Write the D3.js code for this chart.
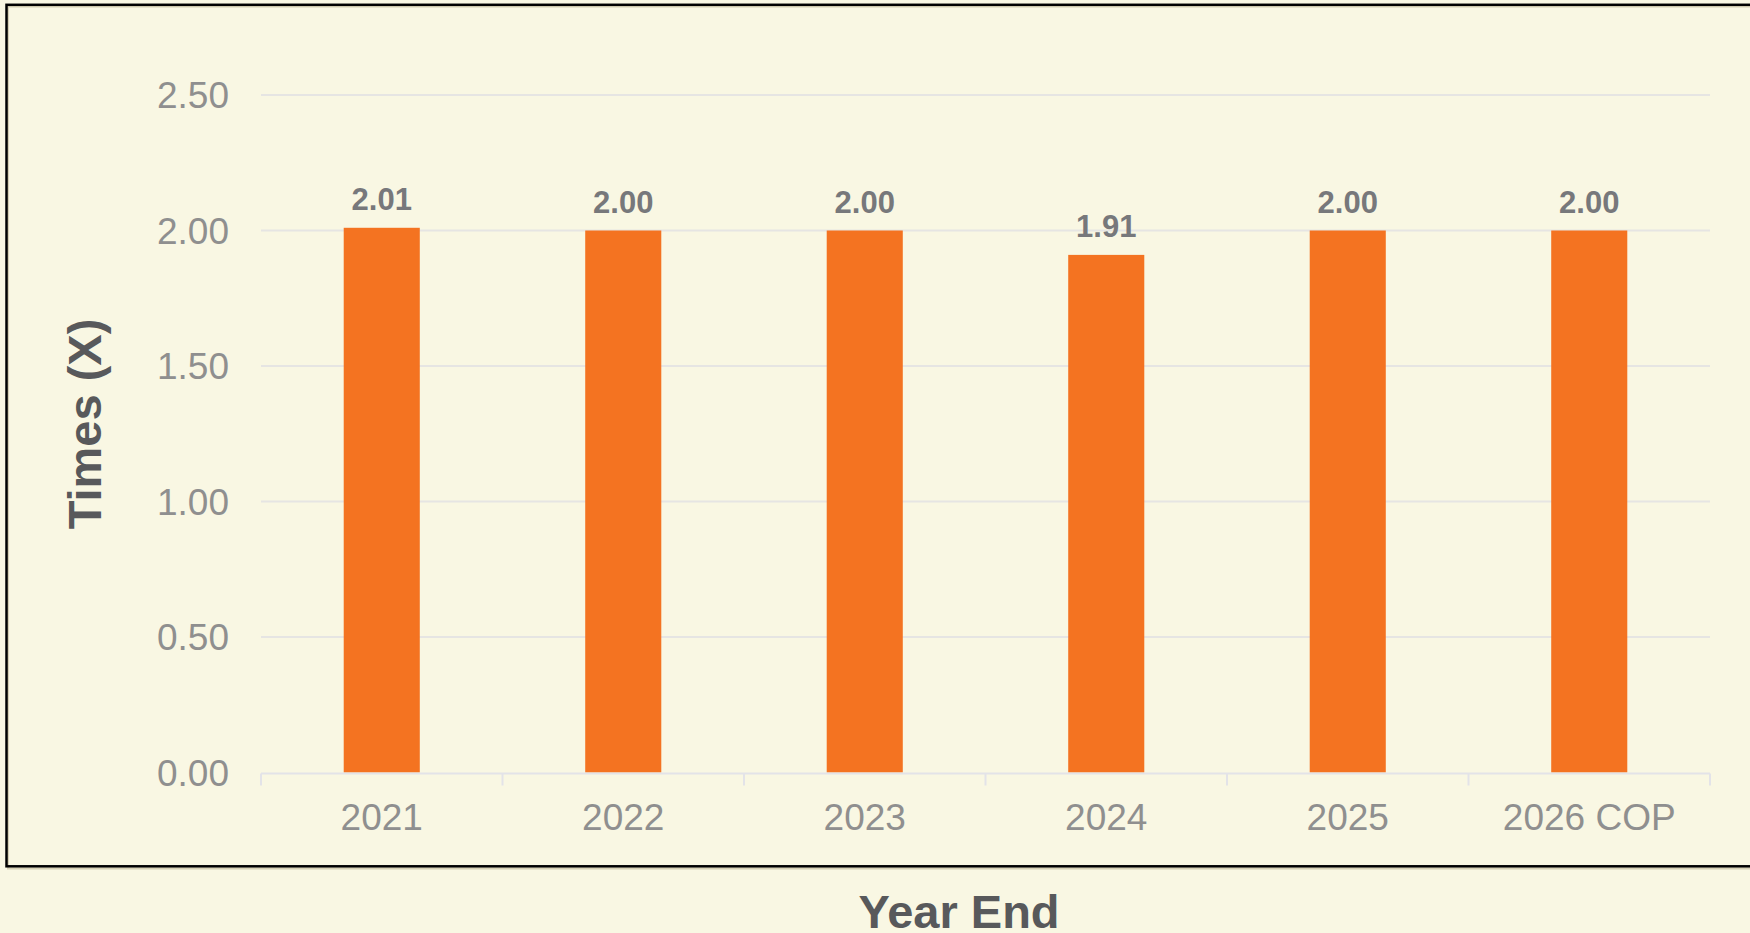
<!DOCTYPE html>
<html>
<head>
<meta charset="utf-8">
<script src="https://cdn.jsdelivr.net/npm/d3@7"></script>
<style>
  html, body { margin: 0; padding: 0; background: #F9F7E3; }
  svg { display: block; }
  text { font-family: "Liberation Sans", Arial, Helvetica, sans-serif; }
</style>
</head>
<body>
<svg id="chart" width="1750" height="933"></svg>
<script>
const categories = ["2021", "2022", "2023", "2024", "2025", "2026 COP"];
const values = [2.01, 2.00, 2.00, 1.91, 2.00, 2.00];
const yTicks = [0, 0.5, 1.0, 1.5, 2.0, 2.5];
const yTitle = "Times (X)";
const xTitle = "Year End";

(function () {
const svg = d3.select("#chart");
const W = 1750, H = 933;
const pLeft = 261, pRight = 1710, pTop = 95, pBottom = 772.5;

svg.append("rect").attr("width", W).attr("height", H).attr("fill", "#F9F7E3");

// frame with faint shadow
svg.append("rect")
  .attr("x", 8).attr("y", 6.5).attr("width", 1760).attr("height", 862)
  .attr("fill", "none").attr("stroke", "#D6D0B4").attr("stroke-width", 2);
svg.append("rect")
  .attr("x", 6.5).attr("y", 4.8).attr("width", 1760).attr("height", 861.5)
  .attr("fill", "none").attr("stroke", "#000").attr("stroke-width", 2.5);

const x = d3.scaleBand().domain(categories).range([pLeft, pRight]).paddingInner(0).paddingOuter(0);
const y = d3.scaleLinear().domain([0, 2.5]).range([pBottom, pTop]);
const barW = x.step() * 0.315;

// gridlines
svg.append("g").selectAll("line").data(yTicks.filter(d => d > 0)).join("line")
  .attr("x1", pLeft).attr("x2", pRight)
  .attr("y1", d => y(d)).attr("y2", d => y(d))
  .attr("stroke", "#E6E5E3").attr("stroke-width", 2);

// y tick labels
svg.append("g").selectAll("text").data(yTicks).join("text")
  .attr("x", 229).attr("y", d => y(d))
  .attr("dy", "0.36em")
  .attr("text-anchor", "end")
  .attr("font-size", 37)
  .attr("fill", "#8F8F8F")
  .text(d => d3.format(".2f")(d));

// bars
svg.append("g").selectAll("rect").data(values).join("rect")
  .attr("x", (d, i) => x(categories[i]) + (x.step() - barW) / 2)
  .attr("y", d => y(d))
  .attr("width", barW)
  .attr("height", d => y(0) - y(d))
  .attr("fill", "#F47321");

// x axis line & ticks
const axisG = svg.append("g");
axisG.append("line")
  .attr("x1", pLeft).attr("x2", pRight).attr("y1", pBottom + 1).attr("y2", pBottom + 1)
  .attr("stroke", "#E3E3E8").attr("stroke-width", 2);
const bounds = categories.map(c => x(c)).concat([pRight]);
axisG.selectAll("line.tk").data(bounds).join("line").attr("class", "tk")
  .attr("x1", d => d).attr("x2", d => d)
  .attr("y1", pBottom + 1).attr("y2", pBottom + 13)
  .attr("stroke", "#E3E3E8").attr("stroke-width", 2);

// x tick labels
svg.append("g").selectAll("text").data(categories).join("text")
  .attr("x", d => x(d) + x.step() / 2)
  .attr("y", 830)
  .attr("text-anchor", "middle")
  .attr("font-size", 37)
  .attr("fill", "#8F8F8F")
  .text(d => d);

// data labels
svg.append("g").selectAll("text").data(values).join("text")
  .attr("x", (d, i) => x(categories[i]) + x.step() / 2)
  .attr("y", d => y(d) - 18)
  .attr("text-anchor", "middle")
  .attr("font-size", 31)
  .attr("font-weight", "bold")
  .attr("fill", "#77787B")
  .text(d => d3.format(".2f")(d));

// axis titles
svg.append("text")
  .attr("transform", "translate(101,424) rotate(-90)")
  .attr("text-anchor", "middle")
  .attr("font-size", 47)
  .attr("font-weight", "bold")
  .attr("fill", "#58595B")
  .text(yTitle);

svg.append("text")
  .attr("x", 959).attr("y", 928)
  .attr("text-anchor", "middle")
  .attr("font-size", 47)
  .attr("font-weight", "bold")
  .attr("fill", "#58595B")
  .text(xTitle);
})();
</script>
</body>
</html>
